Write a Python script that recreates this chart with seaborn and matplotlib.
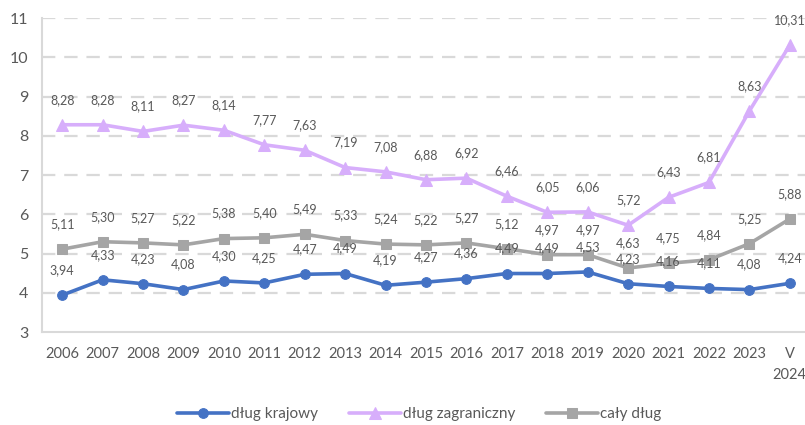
import pandas as pd
import matplotlib.pyplot as plt
import seaborn as sns

# Data
years = ['2006', '2007', '2008', '2009', '2010', '2011', '2012', '2013', '2014',
         '2015', '2016', '2017', '2018', '2019', '2020', '2021', '2022', '2023', 'V\n2024']
krajowy = [3.94, 4.33, 4.23, 4.08, 4.30, 4.25, 4.47, 4.49, 4.19, 4.27,
           4.36, 4.49, 4.49, 4.53, 4.23, 4.16, 4.11, 4.08, 4.24]
zagraniczny = [8.28, 8.28, 8.11, 8.27, 8.14, 7.77, 7.63, 7.19, 7.08, 6.88,
               6.92, 6.46, 6.05, 6.06, 5.72, 6.43, 6.81, 8.63, 10.31]
caly = [5.11, 5.30, 5.27, 5.22, 5.38, 5.40, 5.49, 5.33, 5.24, 5.22,
        5.27, 5.12, 4.97, 4.97, 4.63, 4.75, 4.84, 5.25, 5.88]

series = [
    ('dług krajowy', krajowy, '#4472C4', 'o', 7),
    ('dług zagraniczny', zagraniczny, '#D7AEFB', '^', 8),
    ('cały dług', caly, '#A5A5A5', 's', 7),
]

sns.set_style('white')
plt.rcParams['font.family'] = ['Lato', 'DejaVu Sans']
text_col = '#595959'

fig = plt.figure(figsize=(8.05, 4.25), dpi=100)
ax = fig.add_axes([42 / 805, 93 / 425, 768 / 805, 314 / 425])

pos = list(range(len(years)))
for name, vals, col, mk, ms in series:
    df = pd.DataFrame({'x': pos, 'y': vals})
    sns.lineplot(data=df, x='x', y='y', ax=ax, color=col, marker=mk, markersize=ms,
                 markeredgecolor=col, linewidth=2.6, label=name, zorder=3)
    for x, y in zip(pos, vals):
        ax.annotate(f'{y:.2f}'.replace('.', ','), (x, y), xytext=(0, 18),
                    textcoords='offset points', ha='center', va='center',
                    fontsize=9, color=text_col, zorder=4)

ax.set_ylim(3, 11)
ax.set_xlim(-0.5, len(years) - 0.5)
ax.set_yticks(range(3, 12))
ax.set_xticks(pos)
ax.set_xticklabels(years, linespacing=1.65)
ax.set_xticks([p - 0.5 for p in pos] + [len(years) - 0.5], minor=True)
ax.tick_params(axis='x', which='major', length=0, labelsize=10.5, colors=text_col, pad=11)
ax.tick_params(axis='x', which='minor', length=5, color='#D9D9D9', width=1.2, direction='out')
ax.tick_params(axis='y', length=0, labelsize=11.5, colors=text_col, pad=10)
ax.set_xlabel('')
ax.set_ylabel('')

for yv in range(4, 12):
    ax.axhline(yv, color='#D9D9D9', lw=1.6, ls=(0, (6, 4)), zorder=1)

for s in ['top', 'right']:
    ax.spines[s].set_visible(False)
for s in ['left', 'bottom']:
    ax.spines[s].set_color('#D9D9D9')
    ax.spines[s].set_linewidth(1.5)

handles, labels = ax.get_legend_handles_labels()
ax.get_legend().remove()
fig.legend(handles, labels, loc='center', bbox_to_anchor=(419 / 805, 11 / 425), ncol=3,
           frameon=False, fontsize=11, handlelength=3.4, columnspacing=2.0,
           labelcolor=text_col, handletextpad=0.15, borderaxespad=0, borderpad=0)

fig.savefig('out.png', dpi=100)
